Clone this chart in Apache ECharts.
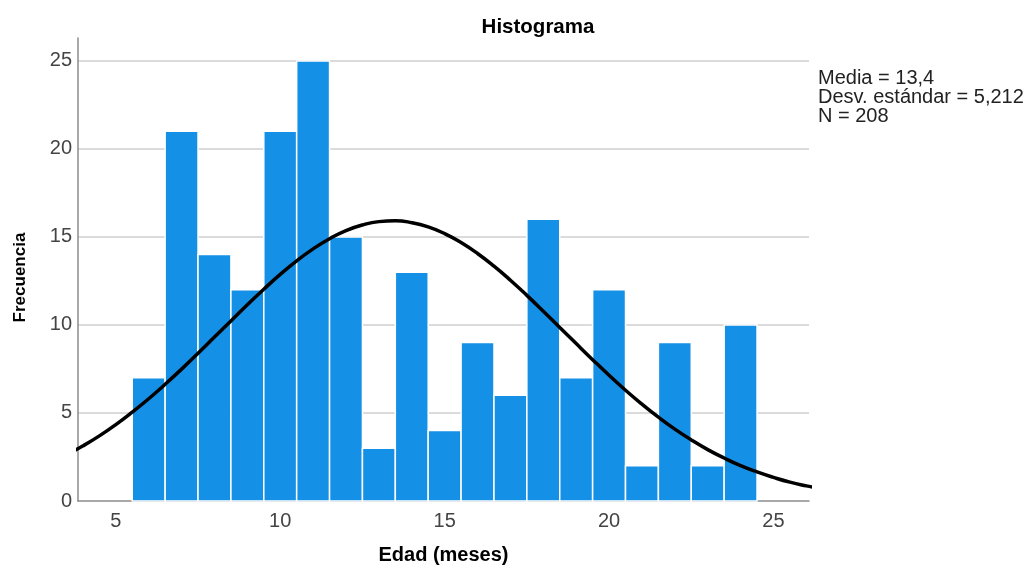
<!DOCTYPE html>
<html>
<head>
<meta charset="utf-8">
<script src="https://cdn.jsdelivr.net/npm/echarts@6/dist/echarts.min.js"></script>
<style>html,body{margin:0;padding:0;background:#fff;}#c{width:1031px;height:566px;}</style>
</head>
<body>
<div id="c"></div>
<script>
// Bin centres (months) and frequencies
var binCenters = [6, 7, 8, 9, 10, 11, 12, 13, 14, 15, 16, 17, 18, 19, 20, 21, 22, 23, 24];
var counts = [7, 21, 14, 12, 21, 25, 15, 3, 13, 4, 9, 6, 16, 7, 12, 2, 9, 2, 10];
// Normal curve points
var curveX = [3, 3.5, 4, 4.5, 5, 5.5, 6, 6.5, 7, 7.5, 8, 8.5, 9, 9.5, 10, 10.5, 11, 11.5, 12, 12.5, 13, 13.5, 14, 14.5, 15, 15.5, 16, 16.5, 17, 17.5, 18, 18.5, 19, 19.5, 20, 20.5, 21, 21.5, 22, 22.5, 23, 23.5, 24, 24.5, 25, 25.5, 26, 26.5];
var curveY = [2.17, 2.62, 3.13, 3.70, 4.34, 5.05, 5.81, 6.63, 7.49, 8.39, 9.31, 10.23, 11.15, 12.03, 12.87, 13.64, 14.32, 14.90, 15.36, 15.68, 15.87, 15.92, 15.81, 15.57, 15.19, 14.68, 14.06, 13.34, 12.54, 11.68, 10.78, 9.86, 8.94, 8.03, 7.14, 6.29, 5.50, 4.76, 4.08, 3.47, 2.92, 2.44, 2.01, 1.65, 1.34, 1.07, 0.86, 0.68];
var xTicks = [5, 10, 15, 20, 25];
var statsLines = ['Media = 13,4', 'Desv. estándar = 5,212', 'N = 208'];

var barData = binCenters.map(function (c, i) { return [c - 0.5, c + 0.5, counts[i]]; });
var curveData = curveX.map(function (x, i) { return [x, curveY[i]]; });

var chart = echarts.init(document.getElementById('c'));
var FONT = '"Liberation Sans", Arial, sans-serif';
chart.setOption({
  animation: false,
  backgroundColor: '#fff',
  title: {
    text: 'Histograma',
    left: 533, top: 12, textAlign: 'center',
    textStyle: { fontFamily: FONT, fontSize: 20.5, fontWeight: 'bold', color: '#000' }
  },
  grid: { left: 78, right: 222, top: 38, bottom: 65, outerBoundsMode: 'none', containLabel: false },
  xAxis: {
    type: 'value', min: 3.85, max: 26.08,
    name: 'Edad (meses)', nameLocation: 'middle', nameGap: 44,
    nameTextStyle: { fontFamily: FONT, fontSize: 20, fontWeight: 'bold', color: '#000' },
    axisLine: { show: true, lineStyle: { color: '#8c8c8c', width: 1.5 } },
    axisTick: { show: false },
    splitLine: { show: false },
    axisLabel: { customValues: xTicks, fontFamily: FONT, fontSize: 20, color: '#444', margin: 10 }
  },
  yAxis: {
    type: 'value', min: 0, max: 26.3, interval: 5,
    name: 'Frecuencia', nameLocation: 'middle', nameGap: 49,
    nameTextStyle: { fontFamily: FONT, fontSize: 17, fontWeight: 'bold', color: '#000', padding: [0, 16, 0, 0] },
    axisLine: { show: true, lineStyle: { color: '#8c8c8c', width: 1.5 } },
    axisTick: { show: false },
    splitLine: { show: true, showMinLine: false, showMaxLine: false, lineStyle: { color: '#cfcfcf', width: 1.5 } },
    axisLabel: {
      fontFamily: FONT, fontSize: 20, color: '#444', margin: 6,
      formatter: function (v) { return (Math.abs(v % 5) < 1e-9) ? String(v) : ''; }
    }
  },
  graphic: [{
    type: 'text', left: 818, top: 68,
    style: { text: statsLines.join('\n'), fontFamily: FONT, fontSize: 20, lineHeight: 19, fill: '#222' }
  }],
  series: [{
    type: 'custom',
    data: barData,
    encode: { x: [0, 1], y: 2 },
    renderItem: function (params, api) {
      var p0 = api.coord([api.value(0), api.value(2)]);
      var p1 = api.coord([api.value(1), 0]);
      return {
        type: 'rect',
        shape: { x: p0[0], y: p0[1], width: p1[0] - p0[0], height: p1[1] - p0[1] },
        style: { fill: '#1490E6', stroke: '#ffffff', lineWidth: 1.5 }
      };
    },
    z: 2
  }, {
    type: 'line',
    data: curveData,
    smooth: true,
    showSymbol: false,
    clip: true,
    lineStyle: { color: '#000', width: 3.5 },
    z: 3
  }]
});
</script>
</body>
</html>
